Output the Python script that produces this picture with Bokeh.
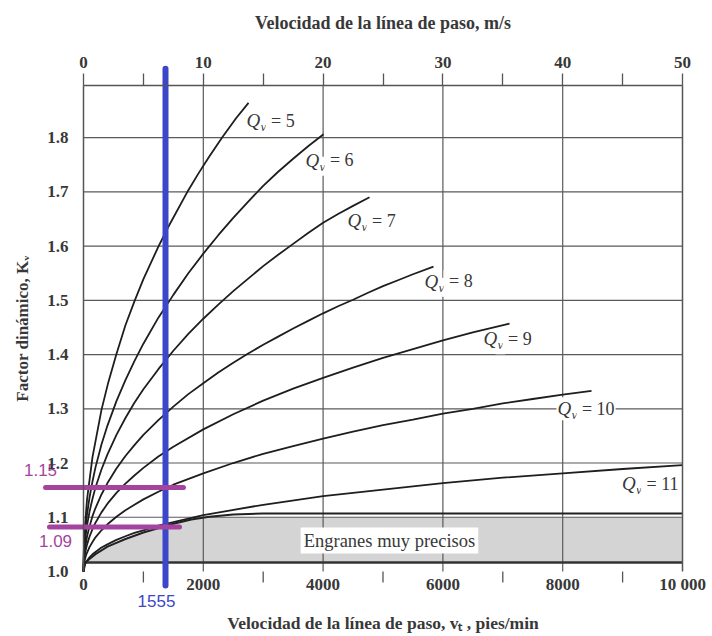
import numpy as np
from bokeh.plotting import figure
from bokeh.models import Range1d, LinearAxis, FixedTicker, NumeralTickFormatter
from bokeh.core.properties import value
from bokeh.embed import file_html
from bokeh.resources import INLINE

# ---------------- data ----------------
vt_q5 = [0, 5, 20, 60, 150, 300, 417, 550, 700, 850, 1000, 1250, 1419, 1750, 1920, 2100, 2320, 2550, 2755]
kv_q5 = [1.0, 1.039, 1.077, 1.134, 1.211, 1.298, 1.350, 1.401, 1.454, 1.498, 1.539, 1.599, 1.636, 1.703,
         1.734, 1.765, 1.801, 1.836, 1.864]

vt_q6 = [0, 5, 10, 20, 40, 60, 100, 150, 200, 300, 400, 550, 700, 850, 1000, 1250, 1500, 1750, 2000, 2250,
         2500, 2750, 3000, 3250, 3500, 3750, 4007]
kv_q6 = [1.0, 1.031, 1.043, 1.061, 1.087, 1.106, 1.136, 1.166, 1.192, 1.234, 1.269, 1.314, 1.353, 1.388,
         1.420, 1.468, 1.510, 1.550, 1.586, 1.620, 1.652, 1.682, 1.711, 1.737, 1.761, 1.784, 1.806]

vt_q7 = [0, 5, 10, 20, 40, 60, 100, 150, 200, 300, 400, 550, 700, 850, 1000, 1250, 1500, 1750, 2000, 2250,
         2500, 2750, 3000, 3250, 3500, 3750, 4000, 4250, 4500, 4775]
kv_q7 = [1.0, 1.025, 1.035, 1.050, 1.070, 1.086, 1.110, 1.134, 1.155, 1.188, 1.216, 1.252, 1.283, 1.311,
         1.336, 1.373, 1.407, 1.438, 1.466, 1.492, 1.517, 1.540, 1.563, 1.584, 1.604, 1.624, 1.643, 1.659,
         1.674, 1.690]

vt_q8 = [0, 5, 10, 20, 40, 60, 100, 150, 200, 300, 400, 550, 700, 850, 1000, 1250, 1500, 1750, 2000, 2250,
         2500, 2750, 3000, 3250, 3500, 3750, 4000, 4250, 4500, 4750, 5000, 5250, 5500, 5843]
kv_q8 = [1.0, 1.019, 1.027, 1.038, 1.053, 1.065, 1.083, 1.102, 1.117, 1.142, 1.163, 1.190, 1.213, 1.233,
         1.252, 1.279, 1.304, 1.327, 1.347, 1.367, 1.385, 1.402, 1.418, 1.433, 1.448, 1.462, 1.476, 1.489,
         1.501, 1.514, 1.526, 1.537, 1.548, 1.562]

vt_q9 = [0, 5, 10, 20, 40, 60, 100, 150, 200, 300, 400, 550, 700, 850, 1000, 1250, 1500, 2000, 2500, 3000,
         3500, 4000, 4500, 5000, 5500, 6000, 6500, 7112]
kv_q9 = [1.0, 1.0146, 1.021, 1.029, 1.041, 1.050, 1.064, 1.078, 1.090, 1.109, 1.125, 1.145, 1.162, 1.177,
         1.191, 1.212, 1.230, 1.262, 1.290, 1.315, 1.337, 1.357, 1.376, 1.394, 1.410, 1.426, 1.441, 1.457]

vt_q10 = [0, 5, 10, 20, 40, 60, 100, 150, 200, 300, 400, 550, 700, 850, 1000, 1250, 1500, 2000, 2500, 3000,
          3500, 4000, 4500, 5000, 5500, 6000, 6500, 7000, 7500, 8000, 8481]
kv_q10 = [1.0, 1.0103, 1.0145, 1.0205, 1.029, 1.035, 1.045, 1.0545, 1.063, 1.076, 1.087, 1.101, 1.113, 1.123,
          1.133, 1.147, 1.160, 1.181, 1.200, 1.217, 1.231, 1.245, 1.258, 1.270, 1.280, 1.291, 1.300, 1.310,
          1.318, 1.326, 1.333]

vt_q11 = [0, 5, 10, 20, 40, 60, 100, 150, 200, 300, 400, 550, 700, 850, 1000, 1250, 1500, 2000, 3000, 4000,
          5000, 6000, 7000, 8000, 9000, 10000]
kv_q11 = [1.0, 1.006, 1.0085, 1.0119, 1.0168, 1.0204, 1.026, 1.0317, 1.036, 1.0441, 1.050, 1.0584, 1.065,
          1.0712, 1.076, 1.0847, 1.091, 1.104, 1.123, 1.139, 1.151, 1.163, 1.173, 1.181, 1.189, 1.196]

# boundary of the "very precise gears" zone
vt_prec = [0, 30, 100, 200, 400, 700, 1000, 1500, 1800, 2100, 2500, 3000, 10000]
kv_prec = [1.0, 1.0166, 1.023, 1.032, 1.046, 1.060, 1.072, 1.088, 1.096, 1.101, 1.105, 1.107, 1.107]
prec_low = 1.0166
prec_cap = 1.1
prec_label = "Engranes muy precisos"
prec_label_x = 5108
prec_label_y = 1.057

curve_vt = [vt_q5, vt_q6, vt_q7, vt_q8, vt_q9, vt_q10, vt_q11]
curve_kv = [kv_q5, kv_q6, kv_q7, kv_q8, kv_q9, kv_q10, kv_q11]

qv_values = ["5", "6", "7", "8", "9", "10", "11"]
qv_label_x = [2705, 3689, 4391, 5676, 6661, 7896, 8975]
qv_label_y = [1.831, 1.758, 1.647, 1.535, 1.429, 1.300, 1.162]

bottom_ticks = [0, 2000, 4000, 6000, 8000, 10000]
bottom_minor = [1000, 3000, 5000, 7000, 9000]
top_ticks = [0, 10, 20, 30, 40, 50]
top_minor = [5, 15, 25, 35, 45]
y_ticks = [1.0, 1.1, 1.2, 1.3, 1.4, 1.5, 1.6, 1.7, 1.8]
x_grid = [2000, 4000, 6000, 8000]
y_grid = [1.1, 1.2, 1.3, 1.4, 1.5, 1.6, 1.7, 1.8]

# chart extent (data units)
vt_min, vt_max = 0, 10000
kv_min, kv_max = 1.0, 1.896
ms_per_ftmin = 50 / 10000

# hand annotations
blue_x = 1369
blue_y = [0.974, 1.927]
blue_label = "1555"
blue_label_pos = (1219, 0.9465)
purple_levels = [1.155, 1.082]
purple_x0 = [-634, -568]
purple_x1 = [1669, 1603]
purple_labels = ["1.15", "1.09"]
purple_label_x = [-718, -467]
purple_label_y = [1.188, 1.057]

# ---------------- figure: the frame is the whole canvas ----------------
W, H = 712, 636
L, R, T, B = 83, 30, 85, 65          # pixels around the chart box
ux = (vt_max - vt_min) / (W - L - R)
uy = (kv_max - kv_min) / (H - T - B)
xr = Range1d(vt_min - L * ux, vt_max + R * ux)
yr = Range1d(kv_min - B * uy, kv_max + T * uy)

TXT = "#383838"
SERIF = "Liberation Serif"
GRID = "#5a5a5a"
TICK = "#555555"
NBSP = "\u00a0"

p = figure(width=W, height=H, output_backend="svg", toolbar_location=None,
           x_range=xr, y_range=yr, min_border=0, x_axis_type=None, y_axis_type=None)
p.outline_line_color = None
p.xgrid.visible = False
p.ygrid.visible = False
p.background_fill_color = "white"
p.border_fill_color = "white"
p.extra_x_ranges = {"ms": Range1d(xr.start * ms_per_ftmin, xr.end * ms_per_ftmin)}

# bottom axis (labels only; its short minor ticks are drawn below)
xa = LinearAxis(fixed_location=kv_min, bounds=(vt_min, vt_max),
                ticker=FixedTicker(ticks=bottom_ticks, minor_ticks=bottom_minor))
xa.major_label_overrides = {10000: "10 000"}
xa.axis_line_color = None
xa.major_tick_out = 0
xa.major_tick_in = 0
xa.minor_tick_out = 0
xa.minor_tick_in = 0
xa.major_label_standoff = 3
xa.axis_label = "Velocidad de la línea de paso, vₜ , pies/min"
xa.axis_label_standoff = 16
p.add_layout(xa, "below")
p.segment(x0=bottom_minor, x1=bottom_minor, y0=[kv_min] * len(bottom_minor),
          y1=[kv_min - 11 * uy] * len(bottom_minor), line_color=TICK, line_width=1.3)

# left axis
ya = LinearAxis(fixed_location=vt_min, bounds=(kv_min, kv_max), ticker=FixedTicker(ticks=y_ticks),
                formatter=NumeralTickFormatter(format="0.0"))
ya.axis_line_color = TICK
ya.axis_line_width = 1.5
ya.major_tick_out = 0
ya.major_tick_in = 0
ya.minor_tick_line_color = None
ya.major_label_standoff = 15
ya.axis_label = "Factor dinámico, Kᵥ"
ya.axis_label_standoff = 12
p.add_layout(ya, "left")

# top axis (m/s)
ta = LinearAxis(x_range_name="ms", fixed_location=kv_max,
                bounds=(vt_min * ms_per_ftmin, vt_max * ms_per_ftmin),
                ticker=FixedTicker(ticks=top_ticks, minor_ticks=top_minor))
ta.axis_line_color = TICK
ta.axis_line_width = 1.5
ta.major_tick_out = 12
ta.major_tick_in = 0
ta.minor_tick_out = 12
ta.minor_tick_in = 0
ta.major_tick_line_color = TICK
ta.minor_tick_line_color = TICK
ta.major_tick_line_width = 1.3
ta.minor_tick_line_width = 1.3
ta.major_label_standoff = 6
ta.axis_label = "Velocidad de la línea de paso, m/s"
ta.axis_label_standoff = 21
p.add_layout(ta, "above")

# right border
ra = LinearAxis(fixed_location=vt_max, bounds=(kv_min, kv_max), ticker=FixedTicker(ticks=[]))
ra.axis_line_color = TICK
ra.axis_line_width = 1.5
p.add_layout(ra, "right")

for ax in (xa, ya, ta):
    ax.major_label_text_font = SERIF
    ax.major_label_text_font_style = "bold"
    ax.major_label_text_font_size = "17px"
    ax.major_label_text_color = TXT
    ax.axis_label_text_font = SERIF
    ax.axis_label_text_font_style = "bold"
    ax.axis_label_text_color = TXT
ta.axis_label_text_font_size = "18px"
xa.axis_label_text_font_size = "17.5px"
ya.axis_label_text_font_size = "17px"

# precise-gear zone fill
fill_top = np.maximum(np.minimum(np.array(kv_prec), prec_cap), prec_low)
p.varea(x=vt_prec, y1=[prec_low] * len(vt_prec), y2=fill_top, fill_color="#d4d4d4")

# grid lines (limited to the chart box)
p.segment(x0=x_grid, x1=x_grid, y0=[kv_min] * len(x_grid), y1=[kv_max] * len(x_grid),
          line_color=GRID, line_width=1.2)
p.segment(x0=[vt_min] * len(y_grid), x1=[vt_max] * len(y_grid), y0=y_grid, y1=y_grid,
          line_color=GRID, line_width=1.2)

# precise zone lines and label
p.segment(x0=[vt_min], x1=[vt_max], y0=[prec_low], y1=[prec_low], line_color="#333333", line_width=2.5)
p.line(vt_prec, kv_prec, line_color="#222222", line_width=2)
p.text(x=[prec_label_x], y=[prec_label_y], text=[prec_label], text_font=value(SERIF),
       text_font_size="18.5px", text_color=TXT, text_align="center", text_baseline="middle",
       background_fill_color="white", padding=3)

# Qv labels: subscript v, italic Q, "= n" (white boxes behind)
p.text(x=qv_label_x, y=qv_label_y, text=["v"] * len(qv_values), text_font=value(SERIF),
       text_font_style="italic", text_font_size="13px", text_color=TXT, x_offset=13, y_offset=6,
       text_align="left", text_baseline="middle", background_fill_color="white", padding=2)
p.text(x=qv_label_x, y=qv_label_y, text=["Q"] * len(qv_values), text_font=value(SERIF),
       text_font_style="italic", text_font_size="19px", text_color=TXT,
       text_align="left", text_baseline="middle", background_fill_color="white", padding=1)
p.text(x=qv_label_x, y=qv_label_y, text=[NBSP + "= " + q for q in qv_values], text_font=value(SERIF),
       text_font_size="18px", text_color=TXT, x_offset=20,
       text_align="left", text_baseline="middle", background_fill_color="white", padding=1)

# Qv curves
for vts, kvs in zip(curve_vt, curve_kv):
    p.line(vts, kvs, line_color="#1e1e1e", line_width=1.8)

# hand annotations (blue vertical, purple horizontals)
p.line([blue_x, blue_x], blue_y, line_color="#3c46c8", line_width=6, line_cap="round")
p.segment(x0=purple_x0, x1=purple_x1, y0=purple_levels, y1=purple_levels,
          line_color="#a4449f", line_width=5, line_cap="round")
p.text(x=purple_label_x, y=purple_label_y, text=purple_labels, text_font=value("Liberation Sans"),
       text_font_size="17px", text_color="#a4449f", text_align="center", text_baseline="middle")
p.text(x=[blue_label_pos[0]], y=[blue_label_pos[1]], text=[blue_label], text_font=value("Liberation Sans"),
       text_font_size="17px", text_color="#3c46c8", text_align="center", text_baseline="middle")

open("out.html", "w").write(file_html(p, INLINE))
